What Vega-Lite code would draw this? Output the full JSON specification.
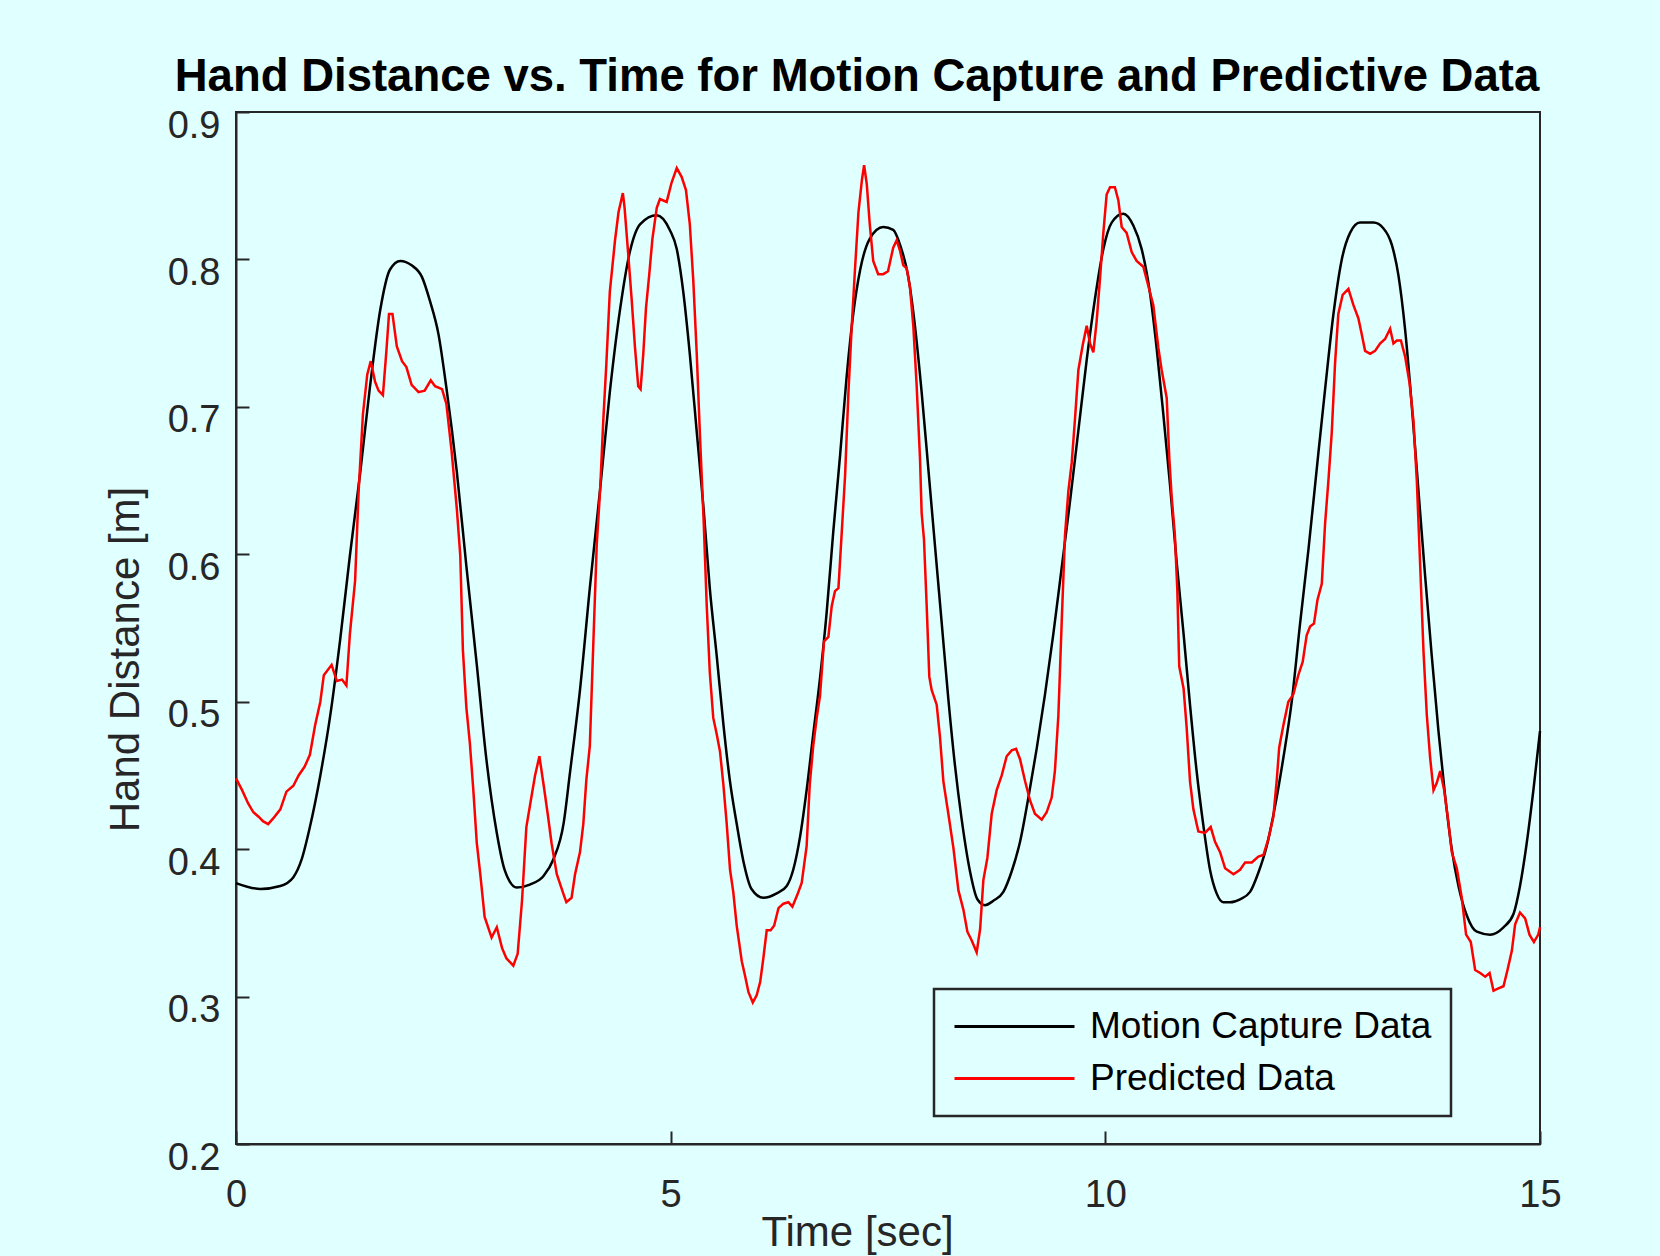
{
  "$schema": "https://vega.github.io/schema/vega-lite/v6.json",
  "autosize": {"type": "none"},
  "padding": {"left": 236, "top": 112, "right": 120, "bottom": 112},
  "width": 1304,
  "height": 1032,
  "background": "#E0FFFF",
  "title": {
    "text": "Hand Distance vs. Time for Motion Capture and Predictive Data",
    "font": "Liberation Sans",
    "fontSize": 45.5,
    "fontWeight": "bold",
    "color": "#000000",
    "anchor": "middle",
    "frame": "group",
    "dx": -31,
    "dy": 50,
    "baseline": "alphabetic",
    "offset": 21
  },
  "config": {
    "view": {"stroke": "#262626", "strokeWidth": 2},
    "axis": {
      "domainColor": "#262626",
      "domainWidth": 2,
      "tickColor": "#262626",
      "tickWidth": 2,
      "tickSize": -13,
      "grid": false,
      "labelFont": "Liberation Sans",
      "labelFontSize": 38,
      "labelColor": "#262626",
      "titleFont": "Liberation Sans",
      "titleFontSize": 42,
      "titleFontWeight": "normal",
      "titleColor": "#262626",
      "labelOverlap": false
    }
  },
  "datasets": {
    "mocap": [
      {"t":0,"v":0.377},{"t":0.28,"v":0.373},{"t":0.51,"v":0.375},{"t":0.66,"v":0.381},{"t":0.755,"v":0.393},{"t":0.85,"v":0.415},{"t":0.97,"v":0.45},{"t":1.08,"v":0.489},{"t":1.2,"v":0.543},{"t":1.31,"v":0.599},{"t":1.43,"v":0.656},{"t":1.54,"v":0.713},{"t":1.66,"v":0.766},{"t":1.77,"v":0.793},{"t":1.89,"v":0.799},{"t":2.02,"v":0.796},{"t":2.14,"v":0.788},{"t":2.23,"v":0.772},{"t":2.33,"v":0.749},{"t":2.42,"v":0.713},{"t":2.54,"v":0.656},{"t":2.65,"v":0.592},{"t":2.77,"v":0.525},{"t":2.88,"v":0.461},{"t":3.0,"v":0.411},{"t":3.09,"v":0.386},{"t":3.23,"v":0.374},{"t":3.38,"v":0.376},{"t":3.54,"v":0.382},{"t":3.65,"v":0.393},{"t":3.77,"v":0.418},{"t":3.84,"v":0.451},{"t":3.957,"v":0.508},{"t":4.07,"v":0.577},{"t":4.19,"v":0.645},{"t":4.3,"v":0.71},{"t":4.42,"v":0.767},{"t":4.53,"v":0.805},{"t":4.65,"v":0.824},{"t":4.84,"v":0.83},{"t":4.99,"v":0.82},{"t":5.07,"v":0.807},{"t":5.145,"v":0.778},{"t":5.22,"v":0.736},{"t":5.3,"v":0.683},{"t":5.38,"v":0.63},{"t":5.45,"v":0.577},{"t":5.53,"v":0.531},{"t":5.606,"v":0.485},{"t":5.68,"v":0.447},{"t":5.76,"v":0.417},{"t":5.836,"v":0.392},{"t":5.93,"v":0.373},{"t":6.066,"v":0.367},{"t":6.22,"v":0.37},{"t":6.335,"v":0.375},{"t":6.41,"v":0.386},{"t":6.49,"v":0.409},{"t":6.564,"v":0.44},{"t":6.64,"v":0.478},{"t":6.718,"v":0.516},{"t":6.795,"v":0.561},{"t":6.87,"v":0.615},{"t":6.95,"v":0.668},{"t":7.025,"v":0.721},{"t":7.1,"v":0.763},{"t":7.18,"v":0.793},{"t":7.29,"v":0.814},{"t":7.445,"v":0.822},{"t":7.56,"v":0.82},{"t":7.638,"v":0.81},{"t":7.734,"v":0.788},{"t":7.81,"v":0.755},{"t":7.887,"v":0.71},{"t":7.964,"v":0.658},{"t":8.04,"v":0.606},{"t":8.117,"v":0.554},{"t":8.194,"v":0.502},{"t":8.27,"v":0.457},{"t":8.348,"v":0.42},{"t":8.443,"v":0.385},{"t":8.528,"v":0.366},{"t":8.616,"v":0.362},{"t":8.712,"v":0.365},{"t":8.827,"v":0.371},{"t":8.923,"v":0.385},{"t":9.019,"v":0.405},{"t":9.115,"v":0.435},{"t":9.21,"v":0.468},{"t":9.306,"v":0.505},{"t":9.402,"v":0.546},{"t":9.498,"v":0.591},{"t":9.594,"v":0.636},{"t":9.69,"v":0.684},{"t":9.786,"v":0.732},{"t":9.88,"v":0.773},{"t":9.977,"v":0.807},{"t":10.073,"v":0.825},{"t":10.207,"v":0.831},{"t":10.322,"v":0.823},{"t":10.418,"v":0.807},{"t":10.514,"v":0.777},{"t":10.59,"v":0.74},{"t":10.667,"v":0.695},{"t":10.744,"v":0.647},{"t":10.82,"v":0.595},{"t":10.9,"v":0.546},{"t":10.974,"v":0.498},{"t":11.05,"v":0.453},{"t":11.128,"v":0.416},{"t":11.204,"v":0.386},{"t":11.28,"v":0.37},{"t":11.357,"v":0.364},{"t":11.435,"v":0.364},{"t":11.55,"v":0.366},{"t":11.665,"v":0.371},{"t":11.76,"v":0.384},{"t":11.856,"v":0.402},{"t":11.952,"v":0.429},{"t":12.048,"v":0.462},{"t":12.144,"v":0.5},{"t":12.24,"v":0.553},{"t":12.336,"v":0.603},{"t":12.432,"v":0.658},{"t":12.528,"v":0.712},{"t":12.624,"v":0.763},{"t":12.72,"v":0.8},{"t":12.815,"v":0.818},{"t":12.93,"v":0.825},{"t":13.085,"v":0.825},{"t":13.2,"v":0.821},{"t":13.295,"v":0.81},{"t":13.372,"v":0.789},{"t":13.449,"v":0.752},{"t":13.525,"v":0.701},{"t":13.602,"v":0.643},{"t":13.679,"v":0.585},{"t":13.755,"v":0.531},{"t":13.832,"v":0.48},{"t":13.909,"v":0.436},{"t":13.985,"v":0.4},{"t":14.062,"v":0.375},{"t":14.158,"v":0.355},{"t":14.273,"v":0.344},{"t":14.426,"v":0.342},{"t":14.58,"v":0.347},{"t":14.695,"v":0.356},{"t":14.77,"v":0.375},{"t":14.847,"v":0.404},{"t":14.924,"v":0.44},{"t":15.0,"v":0.48}
    ],
    "pred": [
      {"t":0,"v":0.448},{"t":0.07,"v":0.44},{"t":0.14,"v":0.431},{"t":0.2,"v":0.425},{"t":0.26,"v":0.422},{"t":0.31,"v":0.419},{"t":0.37,"v":0.417},{"t":0.43,"v":0.421},{"t":0.51,"v":0.427},{"t":0.58,"v":0.439},{"t":0.66,"v":0.443},{"t":0.72,"v":0.45},{"t":0.79,"v":0.456},{"t":0.85,"v":0.464},{"t":0.91,"v":0.484},{"t":0.97,"v":0.5},{"t":1.01,"v":0.518},{"t":1.1,"v":0.525},{"t":1.16,"v":0.514},{"t":1.22,"v":0.515},{"t":1.27,"v":0.511},{"t":1.31,"v":0.546},{"t":1.37,"v":0.582},{"t":1.41,"v":0.642},{"t":1.46,"v":0.695},{"t":1.51,"v":0.722},{"t":1.55,"v":0.731},{"t":1.6,"v":0.717},{"t":1.64,"v":0.711},{"t":1.69,"v":0.708},{"t":1.73,"v":0.738},{"t":1.76,"v":0.763},{"t":1.8,"v":0.763},{"t":1.85,"v":0.741},{"t":1.91,"v":0.731},{"t":1.96,"v":0.727},{"t":2.02,"v":0.715},{"t":2.1,"v":0.71},{"t":2.17,"v":0.711},{"t":2.24,"v":0.718},{"t":2.29,"v":0.714},{"t":2.37,"v":0.712},{"t":2.42,"v":0.702},{"t":2.48,"v":0.67},{"t":2.54,"v":0.631},{"t":2.58,"v":0.599},{"t":2.61,"v":0.535},{"t":2.65,"v":0.496},{"t":2.69,"v":0.472},{"t":2.73,"v":0.44},{"t":2.77,"v":0.404},{"t":2.81,"v":0.383},{"t":2.86,"v":0.354},{"t":2.94,"v":0.34},{"t":3.0,"v":0.347},{"t":3.06,"v":0.333},{"t":3.11,"v":0.326},{"t":3.19,"v":0.321},{"t":3.24,"v":0.329},{"t":3.29,"v":0.365},{"t":3.34,"v":0.415},{"t":3.4,"v":0.436},{"t":3.44,"v":0.45},{"t":3.49,"v":0.463},{"t":3.54,"v":0.443},{"t":3.59,"v":0.422},{"t":3.63,"v":0.404},{"t":3.69,"v":0.383},{"t":3.77,"v":0.369},{"t":3.8,"v":0.364},{"t":3.86,"v":0.367},{"t":3.9,"v":0.383},{"t":3.957,"v":0.398},{"t":3.995,"v":0.417},{"t":4.03,"v":0.447},{"t":4.07,"v":0.47},{"t":4.11,"v":0.539},{"t":4.15,"v":0.607},{"t":4.19,"v":0.645},{"t":4.225,"v":0.691},{"t":4.26,"v":0.729},{"t":4.3,"v":0.778},{"t":4.36,"v":0.813},{"t":4.4,"v":0.832},{"t":4.45,"v":0.845},{"t":4.47,"v":0.835},{"t":4.51,"v":0.805},{"t":4.55,"v":0.774},{"t":4.59,"v":0.74},{"t":4.627,"v":0.714},{"t":4.654,"v":0.712},{"t":4.685,"v":0.736},{"t":4.716,"v":0.767},{"t":4.754,"v":0.79},{"t":4.79,"v":0.814},{"t":4.84,"v":0.835},{"t":4.877,"v":0.841},{"t":4.954,"v":0.839},{"t":5.01,"v":0.852},{"t":5.07,"v":0.862},{"t":5.126,"v":0.856},{"t":5.176,"v":0.847},{"t":5.22,"v":0.824},{"t":5.26,"v":0.786},{"t":5.3,"v":0.736},{"t":5.338,"v":0.679},{"t":5.38,"v":0.622},{"t":5.415,"v":0.565},{"t":5.45,"v":0.52},{"t":5.49,"v":0.489},{"t":5.53,"v":0.478},{"t":5.568,"v":0.466},{"t":5.606,"v":0.444},{"t":5.645,"v":0.417},{"t":5.683,"v":0.386},{"t":5.72,"v":0.371},{"t":5.76,"v":0.348},{"t":5.818,"v":0.324},{"t":5.856,"v":0.314},{"t":5.895,"v":0.303},{"t":5.945,"v":0.296},{"t":5.99,"v":0.301},{"t":6.03,"v":0.31},{"t":6.066,"v":0.326},{"t":6.105,"v":0.345},{"t":6.15,"v":0.345},{"t":6.19,"v":0.348},{"t":6.24,"v":0.36},{"t":6.297,"v":0.363},{"t":6.354,"v":0.364},{"t":6.4,"v":0.361},{"t":6.457,"v":0.369},{"t":6.507,"v":0.377},{"t":6.564,"v":0.402},{"t":6.6,"v":0.444},{"t":6.64,"v":0.47},{"t":6.68,"v":0.489},{"t":6.718,"v":0.504},{"t":6.764,"v":0.541},{"t":6.814,"v":0.544},{"t":6.853,"v":0.565},{"t":6.89,"v":0.575},{"t":6.93,"v":0.577},{"t":6.968,"v":0.615},{"t":7.006,"v":0.653},{"t":7.045,"v":0.71},{"t":7.083,"v":0.755},{"t":7.12,"v":0.793},{"t":7.16,"v":0.832},{"t":7.2,"v":0.854},{"t":7.225,"v":0.864},{"t":7.256,"v":0.851},{"t":7.29,"v":0.824},{"t":7.33,"v":0.799},{"t":7.387,"v":0.79},{"t":7.445,"v":0.79},{"t":7.5,"v":0.792},{"t":7.56,"v":0.808},{"t":7.6,"v":0.813},{"t":7.638,"v":0.806},{"t":7.676,"v":0.796},{"t":7.715,"v":0.794},{"t":7.753,"v":0.781},{"t":7.791,"v":0.755},{"t":7.83,"v":0.714},{"t":7.868,"v":0.665},{"t":7.887,"v":0.628},{"t":7.914,"v":0.61},{"t":7.945,"v":0.565},{"t":7.975,"v":0.517},{"t":8.002,"v":0.508},{"t":8.06,"v":0.498},{"t":8.098,"v":0.476},{"t":8.137,"v":0.446},{"t":8.194,"v":0.424},{"t":8.252,"v":0.401},{"t":8.31,"v":0.372},{"t":8.367,"v":0.359},{"t":8.413,"v":0.344},{"t":8.463,"v":0.338},{"t":8.52,"v":0.33},{"t":8.56,"v":0.346},{"t":8.597,"v":0.379},{"t":8.643,"v":0.394},{"t":8.693,"v":0.424},{"t":8.75,"v":0.44},{"t":8.808,"v":0.45},{"t":8.865,"v":0.463},{"t":8.923,"v":0.467},{"t":8.973,"v":0.468},{"t":9.019,"v":0.461},{"t":9.077,"v":0.446},{"t":9.134,"v":0.433},{"t":9.19,"v":0.424},{"t":9.268,"v":0.42},{"t":9.325,"v":0.425},{"t":9.383,"v":0.435},{"t":9.42,"v":0.453},{"t":9.46,"v":0.491},{"t":9.498,"v":0.554},{"t":9.536,"v":0.613},{"t":9.575,"v":0.643},{"t":9.613,"v":0.662},{"t":9.65,"v":0.691},{"t":9.69,"v":0.725},{"t":9.74,"v":0.742},{"t":9.786,"v":0.755},{"t":9.824,"v":0.743},{"t":9.862,"v":0.737},{"t":9.9,"v":0.758},{"t":9.94,"v":0.788},{"t":9.977,"v":0.818},{"t":10.015,"v":0.844},{"t":10.054,"v":0.849},{"t":10.11,"v":0.849},{"t":10.15,"v":0.84},{"t":10.188,"v":0.822},{"t":10.245,"v":0.818},{"t":10.303,"v":0.805},{"t":10.36,"v":0.799},{"t":10.437,"v":0.795},{"t":10.495,"v":0.782},{"t":10.552,"v":0.769},{"t":10.61,"v":0.74},{"t":10.648,"v":0.725},{"t":10.706,"v":0.706},{"t":10.736,"v":0.665},{"t":10.763,"v":0.639},{"t":10.8,"v":0.613},{"t":10.828,"v":0.576},{"t":10.85,"v":0.524},{"t":10.9,"v":0.509},{"t":10.935,"v":0.483},{"t":10.974,"v":0.446},{"t":11.013,"v":0.427},{"t":11.07,"v":0.412},{"t":11.147,"v":0.411},{"t":11.212,"v":0.415},{"t":11.262,"v":0.405},{"t":11.32,"v":0.398},{"t":11.378,"v":0.387},{"t":11.474,"v":0.383},{"t":11.55,"v":0.386},{"t":11.608,"v":0.391},{"t":11.685,"v":0.391},{"t":11.76,"v":0.395},{"t":11.818,"v":0.396},{"t":11.876,"v":0.407},{"t":11.933,"v":0.422},{"t":11.972,"v":0.447},{"t":12.0,"v":0.469},{"t":12.048,"v":0.484},{"t":12.105,"v":0.5},{"t":12.163,"v":0.505},{"t":12.22,"v":0.518},{"t":12.27,"v":0.527},{"t":12.316,"v":0.545},{"t":12.355,"v":0.551},{"t":12.4,"v":0.553},{"t":12.44,"v":0.569},{"t":12.49,"v":0.58},{"t":12.528,"v":0.621},{"t":12.566,"v":0.65},{"t":12.605,"v":0.683},{"t":12.643,"v":0.73},{"t":12.68,"v":0.763},{"t":12.73,"v":0.776},{"t":12.796,"v":0.78},{"t":12.854,"v":0.769},{"t":12.911,"v":0.76},{"t":12.95,"v":0.749},{"t":12.988,"v":0.738},{"t":13.046,"v":0.736},{"t":13.103,"v":0.738},{"t":13.16,"v":0.743},{"t":13.218,"v":0.746},{"t":13.276,"v":0.753},{"t":13.314,"v":0.743},{"t":13.353,"v":0.745},{"t":13.4,"v":0.745},{"t":13.449,"v":0.734},{"t":13.5,"v":0.716},{"t":13.545,"v":0.69},{"t":13.583,"v":0.65},{"t":13.622,"v":0.592},{"t":13.66,"v":0.534},{"t":13.698,"v":0.491},{"t":13.736,"v":0.462},{"t":13.775,"v":0.44},{"t":13.813,"v":0.445},{"t":13.852,"v":0.453},{"t":13.898,"v":0.44},{"t":13.947,"v":0.418},{"t":13.985,"v":0.398},{"t":14.043,"v":0.387},{"t":14.1,"v":0.367},{"t":14.15,"v":0.342},{"t":14.204,"v":0.337},{"t":14.254,"v":0.318},{"t":14.312,"v":0.316},{"t":14.37,"v":0.3135},{"t":14.42,"v":0.316},{"t":14.465,"v":0.304},{"t":14.522,"v":0.3055},{"t":14.58,"v":0.307},{"t":14.626,"v":0.318},{"t":14.676,"v":0.331},{"t":14.714,"v":0.349},{"t":14.77,"v":0.357},{"t":14.829,"v":0.353},{"t":14.879,"v":0.342},{"t":14.93,"v":0.337},{"t":14.98,"v":0.342},{"t":15.0,"v":0.347}
    ]
  },
  "encoding": {
    "x": {
      "field": "t", "type": "quantitative",
      "scale": {"domain": [0, 15], "nice": false, "zero": false},
      "axis": {
        "title": "Time [sec]",
        "values": [0, 5, 10, 15],
        "format": "d",
        "labelFlush": false,
        "labelPadding": 45,
        "titleX": 621, "titleY": 101,
        "titleAlign": "center", "titleBaseline": "alphabetic"
      }
    },
    "y": {
      "field": "v", "type": "quantitative",
      "scale": {"domain": [0.2, 0.9], "nice": false, "zero": false},
      "axis": {
        "title": "Hand Distance [m]",
        "values": [0.2, 0.3, 0.4, 0.5, 0.6, 0.7, 0.8, 0.9],
        "format": ".1f",
        "labelPadding": 29,
        "labelOffset": 25,
        "labelBaseline": "alphabetic",
        "titleX": -98, "titleY": 547,
        "titleAngle": 270,
        "titleAlign": "center", "titleBaseline": "alphabetic"
      }
    }
  },
  "layer": [
    {
      "data": {"name": "mocap"},
      "mark": {"type": "line", "interpolate": "monotone", "strokeWidth": 2.5},
      "encoding": {
        "color": {
          "datum": "Motion Capture Data", "type": "nominal",
          "scale": {"domain": ["Motion Capture Data", "Predicted Data"], "range": ["#000000", "#FF0000"]},
          "legend": {
            "title": null,
            "orient": "none",
            "legendX": 698,
            "legendY": 877,
            "direction": "vertical",
            "fillColor": "#E0FFFF",
            "strokeColor": "#262626",
            "padding": 19,
            "symbolType": "stroke",
            "symbolSize": 14400,
            "symbolStrokeWidth": 3,
            "clipHeight": 37,
            "rowPadding": 14,
            "labelOffset": 14,
            "labelFont": "Liberation Sans",
            "labelFontSize": 37,
            "labelColor": "#000000",
            "labelLimit": 600,
            "encode": {"legend": {"update": {"strokeWidth": {"value": 2.5}}}}
          }
        }
      }
    },
    {
      "data": {"name": "pred"},
      "mark": {"type": "line", "interpolate": "linear", "strokeWidth": 2.5},
      "encoding": {
        "color": {"datum": "Predicted Data", "type": "nominal"}
      }
    }
  ]
}
